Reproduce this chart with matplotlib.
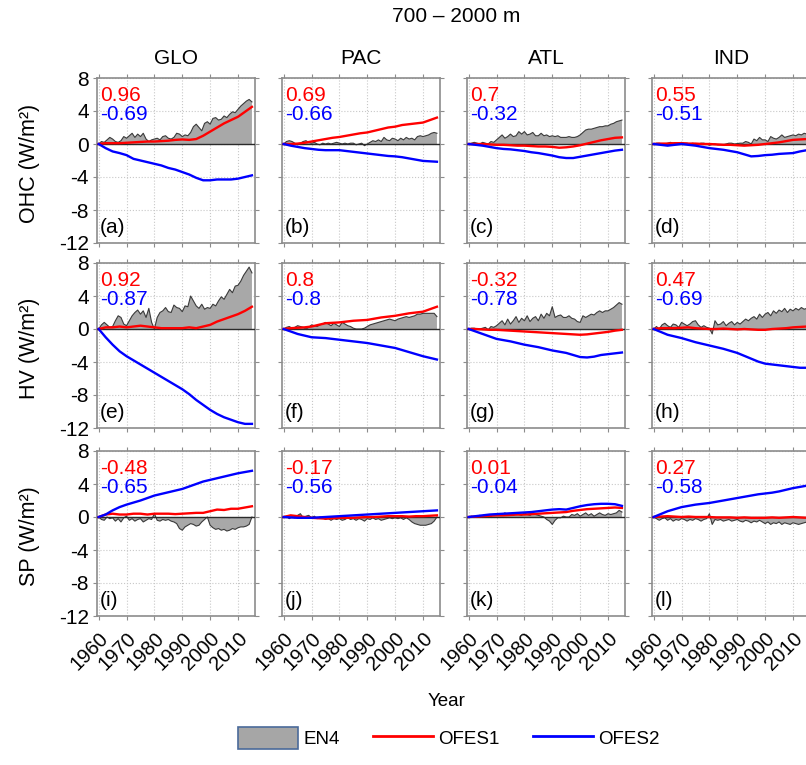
import numpy as np
import matplotlib
matplotlib.use('Agg')
from matplotlib import pyplot as plt
from matplotlib.patches import Patch
from matplotlib.lines import Line2D

plt.rcParams['font.family'] = ['Liberation Sans', 'DejaVu Sans']

# x axes: EN4 is annual, OFES lines read every 2.5 years
years = np.arange(1960, 2016)
years_line = np.arange(1960, 2015.1, 2.5)

regions = ['GLO', 'PAC', 'ATL', 'IND']
row_names = ['OHC (W/m²)', 'HV (W/m²)', 'SP (W/m²)']
letters = ['(a)', '(b)', '(c)', '(d)', '(e)', '(f)', '(g)', '(h)', '(i)', '(j)', '(k)', '(l)']
corr_ofes1 = ['0.96', '0.69', '0.7', '0.55', '0.92', '0.8', '-0.32', '0.47', '-0.48', '-0.17', '0.01', '0.27']
corr_ofes2 = ['-0.69', '-0.66', '-0.32', '-0.51', '-0.87', '-0.8', '-0.78', '-0.69', '-0.65', '-0.56', '-0.04', '-0.58']

# ---- OHC row ----
en4_a = [0, 0.3, 0.2, 0.5, 0.8, 0.6, 0.3, 0.2, 0.4, 0.9,
         0.7, 1.0, 1.3, 0.8, 1.2, 0.9, 1.3, 0.6, 0.3, 0.5,
         0.6, 0.7, 0.5, 0.9, 1.0, 0.7, 0.6, 0.8, 1.3, 1.2,
         0.9, 1.1, 1.0, 1.4, 2.1, 2.4, 2.0, 1.6, 2.5, 2.7,
         2.4, 3.1, 3.2, 2.9, 3.0, 3.4, 3.2, 3.6, 3.9, 3.8,
         4.2, 4.6, 4.9, 5.2, 5.4, 5.1]
ofes1_a = [0, 0.1, 0.1, 0.1, 0.15, 0.2, 0.25, 0.3, 0.3, 0.35, 0.4, 0.5,
           0.55, 0.5, 0.6, 1.0, 1.5, 2.0, 2.5, 2.9, 3.3, 3.9, 4.5]
ofes2_a = [0, -0.5, -0.9, -1.1, -1.35, -1.8, -2.0, -2.2, -2.4, -2.6, -2.9, -3.1,
           -3.4, -3.7, -4.1, -4.4, -4.4, -4.3, -4.3, -4.3, -4.2, -4.0, -3.8]

en4_b = [0, 0.3, 0.4, 0.3, 0.1, -0.1, 0.1, 0.3, 0.4, 0.2,
         0.1, 0.2, 0.0, -0.1, 0.1, 0.0, 0.1, 0.0, 0.1, 0.2,
         0.1, 0.0, 0.1, 0.0, 0.1, 0.1, -0.1, 0.0, 0.1, -0.2,
         0.0, 0.2, 0.4, 0.3, 0.5, 0.3, 0.8, 0.5, 0.4, 0.7,
         0.6, 0.4, 0.7, 0.5, 0.8, 0.6, 0.7, 0.5, 0.9, 1.0,
         0.9, 1.0, 1.1, 1.3, 1.4, 1.3]
ofes1_b = [0, 0, 0.05, 0.15, 0.3, 0.45, 0.6, 0.75, 0.85, 1.0, 1.15, 1.3,
           1.4, 1.6, 1.8, 2.0, 2.1, 2.3, 2.4, 2.5, 2.6, 2.9, 3.2]
ofes2_b = [0, -0.2, -0.35, -0.5, -0.6, -0.7, -0.75, -0.75, -0.75, -0.85, -0.95, -1.05,
           -1.15, -1.25, -1.35, -1.45, -1.5, -1.6, -1.75, -1.9, -2.05, -2.1, -2.15]

en4_c = [0, 0.1, 0.2, 0.1, 0.0, 0.2, 0.1, 0.0, 0.3, 0.2,
         0.5, 0.8, 1.1, 0.7, 0.9, 1.2, 0.9, 1.0, 1.5, 1.2,
         1.5, 1.1, 1.2, 1.4, 1.0, 1.0, 1.3, 1.0, 1.1, 0.9,
         1.0, 0.9, 1.0, 0.8, 0.8, 0.8, 0.9, 0.8, 0.8, 0.9,
         1.1, 1.4, 1.7, 1.8, 1.8, 1.9, 2.0, 2.1, 2.1, 2.2,
         2.2, 2.4, 2.5, 2.7, 2.8, 2.9]
ofes1_c = [0, 0, 0, -0.05, -0.1, -0.1, -0.15, -0.2, -0.2, -0.25, -0.3, -0.3,
           -0.35, -0.45, -0.4, -0.3, -0.15, 0.05, 0.25, 0.45, 0.6, 0.75, 0.8]
ofes2_c = [0, -0.1, -0.2, -0.35, -0.5, -0.6, -0.65, -0.75, -0.85, -1.0, -1.1, -1.25,
           -1.4, -1.6, -1.7, -1.7, -1.55, -1.4, -1.25, -1.1, -0.95, -0.8, -0.7]

en4_d = [0, 0.1, 0.1, 0.0, 0.0, 0.1, 0.2, 0.1, 0.0, 0.1,
         0.2, 0.1, 0.1, 0.0, 0.1, 0.0, 0.0, 0.1, 0.1, 0.0,
         -0.15, -0.05, 0.0, -0.1, -0.1, -0.1, 0.0, 0.1, 0.1, 0.0,
         0.05, 0.1, 0.1, 0.3, 0.2, 0.0, 0.6, 0.4, 0.8, 0.5,
         0.5, 0.3, 0.9, 0.7, 0.6, 0.8, 1.1, 0.8, 0.9, 1.0,
         1.1, 1.0, 1.2, 1.1, 1.3, 1.2]
ofes1_d = [0, 0.05, 0.05, 0.1, 0.1, 0.05, 0.05, 0.0, 0.0, -0.05, -0.1, -0.1,
           -0.15, -0.2, -0.15, -0.1, 0.0, 0.1, 0.2, 0.35, 0.5, 0.55, 0.6]
ofes2_d = [0, -0.1, -0.2, -0.1, 0.0, -0.1, -0.2, -0.35, -0.5, -0.6, -0.7, -0.85,
           -1.0, -1.25, -1.5, -1.45, -1.35, -1.3, -1.2, -1.15, -1.1, -0.9, -0.75]

# ---- HV row ----
en4_e = [0, 0.5, 0.8, 0.5, 0.2, 0.3, 1.0, 1.6, 1.4, 0.6,
         0.4, 1.0, 1.6, 2.0, 2.3, 1.8, 2.2, 1.4, 2.5, 0.8,
         0.0, 1.4, 2.0, 2.2, 2.6, 2.1, 2.0, 2.9, 2.6, 2.5,
         2.1, 2.8, 2.7, 4.0, 3.4, 2.8, 2.5, 3.0, 2.4, 2.6,
         2.5, 3.0, 2.8, 3.4, 3.9, 3.6, 4.2, 4.8, 4.4, 5.2,
         5.3, 5.8, 6.5, 7.0, 7.5, 6.8]
ofes1_e = [0, 0.2, 0.2, 0.3, 0.2, 0.3, 0.4, 0.3, 0.2, 0.1, 0.1, 0.1,
           0.1, 0.2, 0.1, 0.3, 0.5, 0.9, 1.2, 1.5, 1.8, 2.2, 2.7]
ofes2_e = [0, -1.0, -1.9, -2.7, -3.3, -3.8, -4.3, -4.8, -5.3, -5.8, -6.3, -6.8,
           -7.3, -7.9, -8.6, -9.2, -9.8, -10.3, -10.7, -11.0, -11.3, -11.5, -11.5]

en4_f = [0, 0.2, 0.3, 0.1, 0.2, 0.4, 0.3, 0.2, 0.0, 0.2,
         0.5, 0.4, 0.3, 0.5, 0.6, 0.8, 0.6, 0.4, 0.7, 0.5,
         0.3, 0.8, 0.6, 0.4, 0.3, 0.1, 0.0, 0.0, 0.0, 0.1,
         0.3, 0.5, 0.6, 0.7, 0.8, 0.9, 1.0, 1.1, 1.2, 1.1,
         1.0, 1.2, 1.3, 1.4, 1.5, 1.4, 1.5, 1.6, 1.8, 1.8,
         1.9, 1.9, 1.9, 1.9, 1.9, 1.5]
ofes1_f = [0, 0.1, 0.15, 0.2, 0.3, 0.5, 0.7, 0.75, 0.8, 0.9, 1.0, 1.05,
           1.1, 1.25, 1.4, 1.5, 1.6, 1.75, 1.9, 2.0, 2.1, 2.4, 2.7]
ofes2_f = [0, -0.3, -0.6, -0.8, -1.0, -1.05, -1.1, -1.2, -1.3, -1.4, -1.5, -1.6,
           -1.7, -1.85, -2.0, -2.15, -2.3, -2.55, -2.8, -3.05, -3.3, -3.5, -3.7]

en4_g = [0, 0.1, 0.1, 0.0, 0.0, 0.1, 0.2, -0.1, 0.3, 0.2,
         0.4, 0.7, 1.0, 0.5, 1.2, 0.6, 1.0, 1.5, 0.8, 1.3,
         1.0, 1.6, 0.9, 1.3, 1.5, 1.0, 1.8, 1.3, 1.9, 1.6,
         2.7, 1.4, 1.6, 1.7, 1.4, 1.4, 1.6, 1.3, 1.2, 0.9,
         0.8, 1.6, 1.4, 1.6, 1.8, 1.7, 2.0, 2.2, 2.0, 2.2,
         2.2, 2.4, 2.6, 2.9, 3.2, 3.0]
ofes1_g = [0, 0, -0.05, -0.1, -0.1, -0.15, -0.2, -0.25, -0.3, -0.35, -0.4, -0.45,
           -0.5, -0.55, -0.6, -0.65, -0.7, -0.65, -0.55, -0.45, -0.35, -0.2, -0.1]
ofes2_g = [0, -0.3, -0.6, -0.9, -1.2, -1.35, -1.5, -1.7, -1.9, -2.05, -2.2, -2.4,
           -2.6, -2.75, -2.9, -3.15, -3.4, -3.45, -3.35, -3.15, -3.05, -2.95, -2.85]

en4_h = [0, 0.3, 0.0, 0.5, 0.7, 0.4, 0.2, 0.6, 0.5, 0.2,
         0.8, 0.6, 0.4, 0.6, 0.9, 1.0, 0.5, 0.2, 0.4, 0.2,
         0.1, -0.6, 1.0, 0.5, 0.6, 0.9, 0.4, 0.7, 0.9, 0.5,
         0.8, 0.6, 0.9, 1.2, 1.0, 1.3, 1.5, 1.2, 1.8, 1.4,
         1.8, 2.0, 1.6, 2.2, 1.9, 2.3, 2.1, 2.5, 2.0, 2.4,
         2.2, 2.5, 2.3, 2.6, 2.4, 2.5]
ofes1_h = [0, 0.1, 0.1, 0.1, 0.15, 0.2, 0.1, 0.05, 0.0, 0.0, 0.05, 0.0,
           -0.05, 0.0, -0.05, -0.1, -0.1, 0.0, 0.05, 0.1, 0.2, 0.25, 0.3]
ofes2_h = [0, -0.35, -0.7, -0.9, -1.1, -1.35, -1.6, -1.8, -2.0, -2.2, -2.4, -2.65,
           -2.9, -3.25, -3.6, -3.95, -4.2, -4.3, -4.4, -4.5, -4.6, -4.7, -4.7]

# ---- SP row ----
en4_i = [0, -0.3, -0.4, 0.0, -0.2, -0.1, -0.5, -0.2, -0.6, -0.1,
         0.1, -0.4, -0.2, -0.5, -0.3, -0.2, -0.6, -0.4, -0.2, -0.3,
         0.4, -0.4, -0.5, -0.3, -0.4, -0.3, -0.5, -0.6, -0.8, -1.4,
         -1.6, -1.2, -1.0, -0.8, -0.9, -1.1, -1.0, -0.6, -0.3, 0.0,
         -1.0, -1.3, -1.5, -1.4, -1.6, -1.5, -1.7, -1.6, -1.4, -1.5,
         -1.3, -1.2, -1.2, -1.1, -0.9, 0.0]
ofes1_i = [0, 0.3, 0.4, 0.3, 0.3, 0.4, 0.4, 0.3, 0.4, 0.4, 0.4, 0.35,
           0.4, 0.45, 0.5, 0.5, 0.7, 0.9, 0.85, 1.0, 1.0, 1.15, 1.3]
ofes2_i = [0, 0.3, 0.8, 1.2, 1.5, 1.75, 2.0, 2.3, 2.6, 2.8, 3.0, 3.2,
           3.4, 3.7, 4.0, 4.3, 4.5, 4.7, 4.9, 5.1, 5.3, 5.45, 5.6]

en4_j = [0, 0.1, -0.2, 0.0, -0.1, 0.2, 0.4, -0.1, 0.1, 0.2,
         -0.1, 0.1, -0.2, 0.0, -0.1, -0.3, -0.2, -0.4, -0.2, -0.3,
         -0.2, -0.4, -0.3, -0.1, -0.3, -0.2, -0.4, -0.2, -0.3, -0.5,
         -0.2, -0.3, -0.1, -0.3, -0.2, -0.4, -0.3, -0.2, -0.1, -0.2,
         -0.1, -0.2, -0.1, -0.3, -0.1, -0.3, -0.6, -0.8, -0.9, -1.0,
         -1.0, -1.0, -0.9, -0.8, -0.5, 0.0]
ofes1_j = [0, 0.2, 0.1, 0.0, -0.1, -0.15, -0.2, -0.15, -0.1, -0.1, -0.1, -0.05,
           0.0, 0.0, 0.05, 0.1, 0.1, 0.1, 0.05, 0.1, 0.1, 0.15, 0.2]
ofes2_j = [0, -0.05, -0.1, -0.1, -0.1, -0.05, 0.0, 0.05, 0.1, 0.15, 0.2, 0.25,
           0.3, 0.35, 0.4, 0.45, 0.5, 0.55, 0.6, 0.65, 0.7, 0.75, 0.8]

en4_k = [0, 0.1, 0.0, 0.1, 0.2, 0.1, 0.3, 0.2, 0.1, 0.3,
         0.2, 0.4, 0.3, 0.5, 0.3, 0.4, 0.2, 0.4, 0.3, 0.2,
         0.5, 0.3, 0.2, 0.4, 0.3, 0.2, 0.1, 0.0, -0.3, -0.5,
         -0.9, -0.4, -0.1, -0.1, 0.1, 0.0, 0.0, 0.3, 0.2, 0.4,
         0.1, 0.3, 0.5, 0.2, 0.4, 0.1, 0.3, 0.5, 0.3, 0.2,
         0.4, 0.3, 0.4, 0.5, 0.8, 0.6]
ofes1_k = [0, 0.05, 0.1, 0.15, 0.2, 0.2, 0.25, 0.3, 0.3, 0.35, 0.4, 0.45,
           0.5, 0.55, 0.6, 0.75, 0.85, 0.95, 1.0, 1.05, 1.1, 1.15, 1.1]
ofes2_k = [0, 0.1, 0.2, 0.3, 0.35, 0.4, 0.45, 0.5, 0.55, 0.6, 0.7, 0.8,
           0.9, 0.95, 0.9, 1.1, 1.3, 1.45, 1.55, 1.6, 1.6, 1.55, 1.35]

en4_l = [0, -0.2, -0.4, -0.2, -0.1, -0.4, -0.2, -0.5, -0.3, -0.4,
         -0.2, -0.3, -0.5, -0.3, -0.4, -0.2, -0.3, -0.5, -0.3, -0.2,
         0.4, -0.9, -0.3, -0.4, -0.3, -0.5, -0.4, -0.3, -0.5, -0.4,
         -0.3, -0.5, -0.6, -0.4, -0.5, -0.7, -0.5, -0.6, -0.4, -0.6,
         -0.8, -0.6, -0.9, -0.7, -0.8, -0.6, -0.9, -0.7, -0.8, -0.9,
         -0.7, -0.8, -0.9, -0.8, -0.7, -0.6]
ofes1_l = [0, 0.05, 0.1, 0.05, 0.0, 0.05, 0.0, 0.0, 0.0, -0.05, -0.05, -0.05,
           -0.1, -0.05, -0.1, -0.1, -0.1, -0.05, -0.1, -0.05, 0.0, -0.05, -0.1]
ofes2_l = [0, 0.35, 0.7, 0.95, 1.2, 1.35, 1.5, 1.6, 1.7, 1.85, 2.0, 2.15,
           2.3, 2.45, 2.6, 2.75, 2.85, 2.95, 3.1, 3.3, 3.5, 3.65, 3.8]

en4 = [en4_a, en4_b, en4_c, en4_d, en4_e, en4_f, en4_g, en4_h, en4_i, en4_j, en4_k, en4_l]
ofes1 = [ofes1_a, ofes1_b, ofes1_c, ofes1_d, ofes1_e, ofes1_f, ofes1_g, ofes1_h,
         ofes1_i, ofes1_j, ofes1_k, ofes1_l]
ofes2 = [ofes2_a, ofes2_b, ofes2_c, ofes2_d, ofes2_e, ofes2_f, ofes2_g, ofes2_h,
         ofes2_i, ofes2_j, ofes2_k, ofes2_l]

# layout in pixels (the 4th column runs off the right edge, like the original)
W, H = 806, 765
col_left = [97, 282, 467, 652]
row_top = [78, 263, 451]
ax_w, ax_h = 158, 165

fig = plt.figure(figsize=(W / 100, H / 100), dpi=100)

for i in range(3):
    for j in range(4):
        k = i * 4 + j
        ax = fig.add_axes([col_left[j] / W, 1 - (row_top[i] + ax_h) / H, ax_w / W, ax_h / H])
        ax.fill_between(years, en4[k], 0, facecolor='#a8a8a8', edgecolor='none', zorder=2)
        ax.plot(years, en4[k], color='#3a3a3a', lw=0.8, zorder=3)
        ax.axhline(0, color='#2a2a2a', lw=1.0, zorder=3)
        ax.plot(years_line, ofes1[k], color='#ff0000', lw=1.7, zorder=4)
        ax.plot(years_line, ofes2[k], color='#0000ff', lw=1.7, zorder=4)

        ax.set_xlim(1959.4, 2016.1)
        ax.set_ylim(-12, 8)
        ax.set_xticks(np.arange(1960, 2011, 10))
        ax.set_yticks(np.arange(-12, 9, 4))
        ax.grid(True, ls=':', color='#c8c8c8', lw=0.8, zorder=1)
        for s in ax.spines.values():
            s.set_color('#8c8c8c')
            s.set_linewidth(1.2)
        ax.tick_params(direction='out', length=3, width=0.8, color='#8c8c8c',
                       top=True, right=True, labelsize=15, pad=3)
        ax.tick_params(axis='x', pad=6)

        if j == 0:
            ax.set_yticklabels([str(v) for v in np.arange(-12, 9, 4)])
        else:
            ax.set_yticklabels([])
        if i == 2:
            ax.set_xticklabels([str(v) for v in np.arange(1960, 2011, 10)],
                               rotation=45, ha='right', va='top', rotation_mode='anchor',
                               fontsize=14.5)
        else:
            ax.set_xticklabels([])
        if i == 0:
            ax.set_title(regions[j], fontsize=15, pad=10)

        ax.text(0.02, 0.86, corr_ofes1[k], color='#ff0000', fontsize=15, transform=ax.transAxes)
        ax.text(0.02, 0.745, corr_ofes2[k], color='#0000ff', fontsize=15, transform=ax.transAxes)
        ax.text(0.015, 0.06, letters[k], color='black', fontsize=15, transform=ax.transAxes)

for i in range(3):
    fig.text(30 / W, 1 - (row_top[i] + ax_h / 2 + 3) / H, row_names[i], rotation=90,
             ha='center', va='center', fontsize=15.5)

fig.text(456 / W, 1 - 17 / H, '700 – 2000 m', ha='center', va='center', fontsize=15)
fig.text(447 / W, 1 - 702 / H, 'Year', ha='center', va='center', fontsize=13.5)

handles = [Patch(facecolor='#a6a6a6', edgecolor='#4a6a9a', lw=1.2),
           Line2D([0], [0], color='#ff0000', lw=2),
           Line2D([0], [0], color='#0000ff', lw=2)]
fig.legend(handles, ['EN4', 'OFES1', 'OFES2'], loc='center', ncol=3, frameon=False,
           bbox_to_anchor=(449 / W, 1 - 738 / H), fontsize=13.5,
           handlelength=3.2, handleheight=1.4, handletextpad=0.3, columnspacing=1.75)

fig.savefig('out.png', dpi=100)
